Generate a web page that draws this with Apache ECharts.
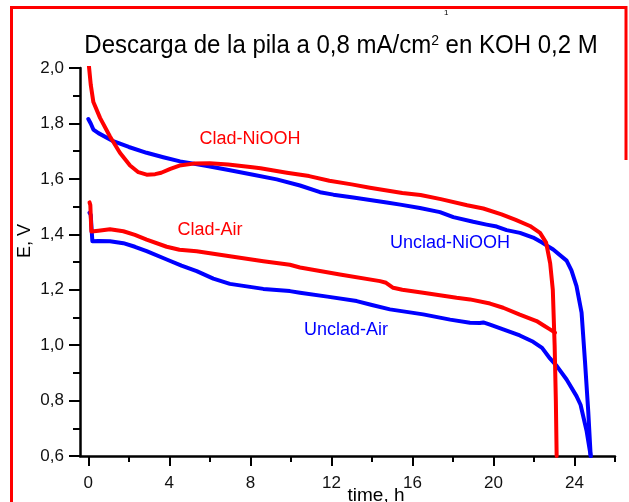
<!DOCTYPE html>
<html>
<head>
<meta charset="utf-8">
<script src="https://cdn.jsdelivr.net/npm/echarts@6/dist/echarts.min.js"></script>
<style>
  html, body { margin: 0; padding: 0; background: #fff; }
  #chart { width: 629px; height: 502px; }
</style>
</head>
<body>
<div id="chart"></div>
<script>
// Discharge curves: time (h) and cell voltage E (V)
const cladNiTime = [0, 0.12, 0.25, 0.58, 1.07, 1.56, 2.06, 2.47, 2.88, 3.3, 3.6, 4.05, 4.5, 5.2, 6.0, 6.9, 8.1, 8.5, 9.8, 10.9, 11.9, 13.0, 13.9, 15.5, 16.4, 17.4, 18.7, 19.5, 20.4, 21.1, 21.8, 22.3, 22.6, 22.8, 22.93, 23.02, 23.08, 23.12];
const cladNiVolt = [2.03, 1.94, 1.877, 1.82, 1.753, 1.694, 1.648, 1.624, 1.615, 1.617, 1.622, 1.636, 1.648, 1.655, 1.656, 1.652, 1.642, 1.638, 1.622, 1.61, 1.593, 1.58, 1.568, 1.549, 1.542, 1.527, 1.505, 1.493, 1.472, 1.452, 1.43, 1.405, 1.37, 1.295, 1.2, 1.0, 0.8, 0.6];

const uncladNiTime = [0, 0.12, 0.25, 0.5, 1.23, 2.0, 2.88, 3.7, 4.53, 5.8, 6.99, 8.14, 9.3, 10.45, 11.44, 12.1, 13.08, 14.73, 15.4, 16.37, 17.36, 18.02, 19.0, 19.66, 20.16, 20.65, 21.31, 21.96, 22.4, 22.95, 23.61, 23.85, 24.1, 24.35, 24.52, 24.68, 24.8];
const uncladNiVolt = [1.816, 1.80, 1.778, 1.765, 1.736, 1.715, 1.694, 1.678, 1.663, 1.647, 1.631, 1.615, 1.598, 1.576, 1.552, 1.543, 1.533, 1.515, 1.507, 1.495, 1.48, 1.462, 1.445, 1.435, 1.428, 1.415, 1.405, 1.388, 1.37, 1.345, 1.305, 1.27, 1.213, 1.117, 0.94, 0.76, 0.6];

const cladAirTime = [0.06, 0.1, 0.15, 0.5, 1.07, 1.73, 2.3, 2.88, 3.87, 4.5, 5.35, 6.99, 8.64, 9.95, 10.45, 12.42, 14.4, 14.7, 15.05, 15.5, 16.53, 18.18, 18.84, 19.83, 20.48, 21.3, 22.13, 22.5, 22.79, 23.04];
const cladAirVolt = [1.515, 1.505, 1.41, 1.413, 1.418, 1.411, 1.398, 1.381, 1.355, 1.344, 1.339, 1.321, 1.303, 1.29, 1.28, 1.255, 1.231, 1.225, 1.207, 1.2, 1.189, 1.171, 1.165, 1.15, 1.135, 1.11, 1.087, 1.07, 1.057, 1.045];

const uncladAirTime = [0.06, 0.12, 0.2, 0.5, 1.07, 1.73, 2.3, 2.88, 3.87, 4.6, 5.35, 6.17, 6.99, 8.64, 9.95, 10.45, 11.8, 13.25, 14.0, 14.89, 16.53, 17.86, 18.84, 19.33, 19.5, 19.83, 20.48, 21.3, 21.96, 22.4, 22.79, 23.12, 23.61, 24.1, 24.3, 24.6, 24.8];
const uncladAirVolt = [1.478, 1.47, 1.375, 1.376, 1.375, 1.368, 1.355, 1.339, 1.309, 1.287, 1.267, 1.24, 1.221, 1.203, 1.195, 1.189, 1.175, 1.159, 1.145, 1.129, 1.111, 1.092, 1.081, 1.08, 1.082, 1.074, 1.057, 1.035, 1.012, 0.99, 0.952, 0.925, 0.876, 0.816, 0.785, 0.69, 0.6];

// Axis ticks
const xMajorTicks = [0, 4, 8, 12, 16, 20, 24];
const xMinorTicks = [2, 6, 10, 14, 18, 22, 26];

// Texts
const seriesNames = ['Clad-NiOOH', 'Unclad-NiOOH', 'Clad-Air', 'Unclad-Air'];
const titleText = 'Descarga de la pila a 0,8 mA/cm{sup|2} en KOH 0,2 M';
const xAxisTitle = 'time, h';
const yAxisTitle = 'E, V';

const RED = '#ff0000';
const BLUE = '#0000ff';
const FONT = '"Liberation Sans", Arial, Helvetica, sans-serif';

function pairs(ts, vs) { return ts.map((t, i) => [t, vs[i]]); }

const chart = echarts.init(document.getElementById('chart'), null, { renderer: 'canvas' });

function lineSeries(name, ts, vs, color) {
  return {
    name: name,
    type: 'line',
    xAxisIndex: 0,
    yAxisIndex: 0,
    data: pairs(ts, vs),
    showSymbol: false,
    symbol: 'none',
    clip: true,
    animation: false,
    lineStyle: { color: color, width: 4, cap: 'round', join: 'round' },
    z: 3
  };
}

const axisBlack = { color: '#000', width: 2 };

chart.setOption({
  animation: false,
  backgroundColor: '#fff',
  grid: { left: 80, top: 68, right: 14, bottom: 46, containLabel: false },
  xAxis: [
    {
      type: 'value', min: -0.41, max: 26,
      axisLine: { show: true, onZero: false, lineStyle: { color: '#000', width: 2.5 } },
      axisTick: { show: true, inside: false, length: 10, lineStyle: axisBlack, customValues: xMajorTicks },
      axisLabel: { show: true, customValues: xMajorTicks, margin: 19, color: '#111', fontSize: 17, fontFamily: FONT },
      splitLine: { show: false }
    },
    {
      type: 'value', min: -0.41, max: 26, position: 'bottom',
      axisLine: { show: false },
      axisTick: { show: true, inside: false, length: 6, lineStyle: axisBlack, customValues: xMinorTicks },
      axisLabel: { show: false },
      splitLine: { show: false }
    }
  ],
  yAxis: [
    {
      type: 'value', min: 0.6, max: 2.0, interval: 0.2,
      axisLine: { show: true, onZero: false, lineStyle: { color: '#000', width: 2.5 } },
      axisTick: { show: true, inside: false, length: 11, lineStyle: axisBlack },
      minorTick: { show: true, splitNumber: 2, length: 7, lineStyle: axisBlack },
      axisLabel: {
        margin: 16, color: '#111', fontSize: 17, fontFamily: FONT,
        formatter: v => v.toFixed(1).replace('.', ',')
      },
      splitLine: { show: false },
      minorSplitLine: { show: false }
    }
  ],
  series: [
    lineSeries(seriesNames[1], uncladNiTime, uncladNiVolt, BLUE),
    lineSeries(seriesNames[3], uncladAirTime, uncladAirVolt, BLUE),
    lineSeries(seriesNames[0], cladNiTime, cladNiVolt, RED),
    lineSeries(seriesNames[2], cladAirTime, cladAirVolt, RED)
  ],
  graphic: [
    // frame around the figure
    { type: 'polyline', silent: true, z: 10,
      shape: { points: [[11.5, 502], [11.5, 7.5], [626, 7.5], [626, 160]] },
      style: { stroke: RED, lineWidth: 3, fill: null } },
    { type: 'text', left: 444, top: 9, z: 10,
      style: { text: '1', fill: '#000', font: '8px ' + FONT } },
    { type: 'text', x: 341, y: 46, scaleY: 1.1, z: 10,
      style: {
        text: titleText, fill: '#000', font: '24px ' + FONT,
        align: 'center', verticalAlign: 'middle',
        rich: { sup: { fontSize: 14, fontFamily: FONT, fill: '#000', verticalAlign: 'top', padding: [0, 0, 10, 0] } }
      } },
    { type: 'text', x: 376, y: 496, z: 10,
      style: { text: xAxisTitle, fill: '#000', font: '19px ' + FONT, align: 'center', verticalAlign: 'middle' } },
    { type: 'text', x: 25, y: 241, rotation: Math.PI / 2, z: 10,
      style: { text: yAxisTitle, fill: '#000', font: '18px ' + FONT, align: 'center', verticalAlign: 'middle' } },
    { type: 'text', x: 250, y: 139, z: 10,
      style: { text: seriesNames[0], fill: RED, font: '18px ' + FONT, align: 'center', verticalAlign: 'middle' } },
    { type: 'text', x: 210, y: 230, z: 10,
      style: { text: seriesNames[2], fill: RED, font: '18px ' + FONT, align: 'center', verticalAlign: 'middle' } },
    { type: 'text', x: 450, y: 243, z: 10,
      style: { text: seriesNames[1], fill: BLUE, font: '18px ' + FONT, align: 'center', verticalAlign: 'middle' } },
    { type: 'text', x: 346, y: 330, z: 10,
      style: { text: seriesNames[3], fill: BLUE, font: '18px ' + FONT, align: 'center', verticalAlign: 'middle' } }
  ]
});
</script>
</body>
</html>
